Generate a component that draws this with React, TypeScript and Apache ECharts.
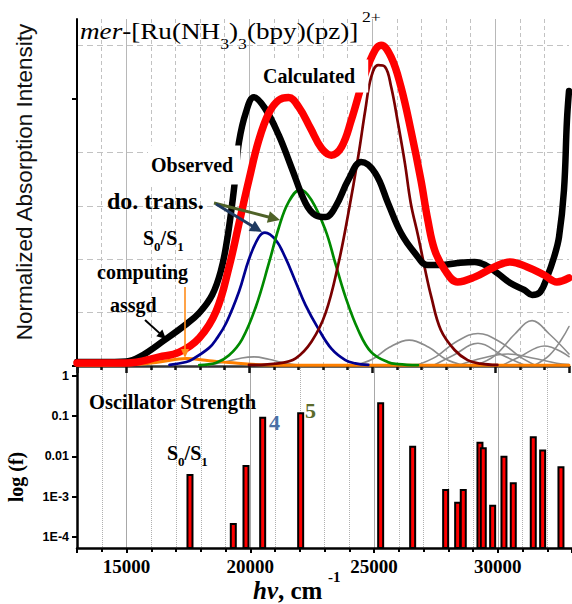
import React, { useEffect, useRef } from "react";
import * as echarts from "echarts";

const SERIF = "'Liberation Serif', 'Times New Roman', serif";
const SANS = "'Liberation Sans', Arial, sans-serif";

// x range (cm^-1)
const X_MIN = 13000;
const X_MAX = 33000;
const X_LABELS = [15000, 20000, 25000, 30000];
// top panel y range
const Y_TOP_MAX = 1.3;
// bottom panel log range
const F_MIN = 5.25e-5;
const F_MAX = 1.58;
const F_TICKS = [1e-4, 1e-3, 1e-2, 1e-1, 1];

// Observed spectrum (black)
const OBSERVED: number[][] = [
  [13000, 0.015], [13930, 0.015], [15010, 0.017], [15545, 0.034], [16555, 0.097],
  [17404, 0.154], [17969, 0.199], [18494, 0.266], [18858, 0.36], [19100, 0.472],
  [19302, 0.603], [19424, 0.697], [19585, 0.839], [19868, 0.951], [20191, 1.007],
  [20636, 0.966], [21201, 0.865], [21726, 0.742], [22292, 0.61], [22696, 0.565],
  [23100, 0.558], [23504, 0.596], [24029, 0.697], [24554, 0.764], [25120, 0.723],
  [25645, 0.61], [26170, 0.498], [26736, 0.423], [27261, 0.378], [27786, 0.378],
  [28473, 0.386], [29160, 0.39], [29604, 0.378], [30089, 0.348], [30614, 0.311],
  [31180, 0.285], [31503, 0.266], [31826, 0.277], [32109, 0.333], [32392, 0.408],
  [32594, 0.483], [32796, 0.659], [32917, 0.921], [33000, 1.03],
];
// Calculated spectrum (red)
const CALCULATED: number[][] = [
  [13000, 0.011], [15000, 0.011], [16350, 0.034], [17160, 0.052], [17970, 0.105],
  [18660, 0.206], [19180, 0.371], [19590, 0.536], [19990, 0.697], [20390, 0.846],
  [20800, 0.948], [21200, 0.996], [21600, 1.006], [22010, 0.971], [22490, 0.891],
  [22940, 0.816], [23340, 0.79], [23750, 0.82], [24150, 0.921], [24720, 1.097],
  [25120, 1.184], [25360, 1.202], [25770, 1.157], [26170, 1.045], [26570, 0.884],
  [26980, 0.697], [27260, 0.547], [27540, 0.434], [27950, 0.36], [28470, 0.315],
  [29160, 0.333], [29970, 0.371], [30610, 0.39], [31300, 0.371], [31990, 0.341],
  [32510, 0.315], [33000, 0.33],
];
// Band components
const BAND_MAROON: number[][] = [
  [19990, 0.004], [21200, 0.01], [21890, 0.029], [22530, 0.091], [23100, 0.197],
  [23630, 0.385], [24030, 0.572], [24430, 0.784], [24720, 0.959], [24960, 1.083],
  [25240, 1.127], [25520, 1.121], [25770, 1.046], [26050, 0.909], [26330, 0.759],
  [26570, 0.609], [26860, 0.49], [27130, 0.37], [27400, 0.26], [27790, 0.135],
  [28350, 0.06], [28880, 0.022], [29400, 0.009], [30090, 0.004],
];
const BAND_GREEN: number[][] = [
  [17970, 0.003], [18660, 0.012], [19180, 0.04], [19710, 0.1], [20270, 0.222],
  [20800, 0.385], [21200, 0.517], [21600, 0.614], [22080, 0.661], [22530, 0.622],
  [23100, 0.509], [23500, 0.385], [23910, 0.26], [24430, 0.135], [24960, 0.052],
  [25650, 0.014], [26050, 0.007], [26860, 0.003],
];
const BAND_BLUE: number[][] = [
  [16760, 0.004], [17440, 0.015], [17690, 0.025], [18370, 0.068], [18660, 0.1],
  [19060, 0.16], [19590, 0.28], [19990, 0.4], [20390, 0.483], [20640, 0.5],
  [21080, 0.472], [21480, 0.404], [21890, 0.315], [22290, 0.228], [22820, 0.138],
  [23340, 0.065], [23910, 0.022], [24310, 0.01], [24840, 0.004],
];
const BAND_ORANGE: number[][] = [
  [13000, 0.003], [15140, 0.005], [16350, 0.015], [17440, 0.028], [18370, 0.02],
  [19180, 0.013], [20390, 0.005], [22010, 0.003], [33000, 0.003],
];
const GRAY_BANDS: number[][][] = [
  [[18300, 0.002], [19000, 0.015], [19700, 0.03], [20200, 0.034], [20800, 0.025], [21500, 0.01], [22200, 0.002]],
  [[24300, 0.003], [25000, 0.025], [25700, 0.07], [26500, 0.097], [27300, 0.07], [28000, 0.025], [28700, 0.003]],
  [[26800, 0.003], [27600, 0.035], [28400, 0.09], [29300, 0.122], [30200, 0.09], [31000, 0.035], [31600, 0.004]],
  [[27500, 0.003], [28300, 0.04], [29300, 0.085], [30300, 0.04], [31200, 0.003]],
  [[29200, 0.003], [30000, 0.04], [30800, 0.12], [31500, 0.17], [32200, 0.12], [33000, 0.045]],
  [[30300, 0.003], [31000, 0.035], [32000, 0.075], [33000, 0.035]],
  [[31600, 0.003], [32200, 0.04], [32700, 0.1], [33000, 0.148]],
  [[28500, 0.003], [29500, 0.03], [30500, 0.045], [31500, 0.03], [32500, 0.01], [33000, 0.005]],
];
// Oscillator strengths
const BAR_X = [17565, 19315, 19828, 20502, 22037, 25269, 26562, 27895, 28380, 28607, 29281, 29415, 29794, 30251, 30627, 31435, 31814, 32554];
const BAR_F = [3.44e-3, 2.08e-4, 5.77e-3, 0.092, 0.118, 0.209, 0.0174, 1.46e-3, 7.05e-4, 1.46e-3, 0.0219, 0.0159, 5.94e-4, 9.84e-3, 2.14e-3, 0.0299, 0.0139, 5.36e-3];

function arrow(x1: number, y1: number, x2: number, y2: number, color: string, w: number, L: number, hw: number) {
  const dx = x2 - x1, dy = y2 - y1;
  const len = Math.hypot(dx, dy);
  const ux = dx / len, uy = dy / len;
  const bx = x2 - L * ux, by = y2 - L * uy;
  return [
    { type: "line", z: 100, shape: { x1, y1, x2: bx + ux, y2: by + uy }, style: { stroke: color, lineWidth: w } },
    {
      type: "polygon", z: 100,
      shape: { points: [[x2, y2], [bx - hw * uy, by + hw * ux], [bx + hw * uy, by - hw * ux]] },
      style: { fill: color },
    },
  ];
}

function logLabel(v: number) {
  const e = Math.round(Math.log10(v));
  if (e === 0) return "1";
  if (e === -1) return "0.1";
  if (e === -2) return "0.01";
  return "1E" + e;
}

export default function App() {
  const ref = useRef<HTMLDivElement>(null);
  useEffect(() => {
    if (!ref.current) return;
    const chart = echarts.init(ref.current, undefined, { renderer: "svg" });

    const lineSeries = (data: number[][], color: string, width: number, z = 2) => ({
      type: "line",
      xAxisIndex: 0,
      yAxisIndex: 0,
      data,
      showSymbol: false,
      symbol: "none",
      smooth: 0.4,
      z,
      lineStyle: { color, width, cap: "round", join: "round" },
      silent: true,
    });

    const richS = (size: number, sub: number) => ({
      n: { fontFamily: SERIF, fontWeight: "bold", fontSize: size, lineHeight: 30, fill: "#000" },
      s: { fontFamily: SERIF, fontWeight: "bold", fontSize: sub, lineHeight: sub, verticalAlign: "bottom", fill: "#000" },
    });

    const boldText = (text: string, x: number, y: number, size: number, extra: any = {}) => ({
      type: "text",
      x,
      y,
      z: 100,
      style: {
        text,
        fill: "#000",
        fontFamily: SERIF,
        fontWeight: "bold",
        fontSize: size,
        align: "left",
        verticalAlign: "middle",
        ...extra,
      },
    });

    const option: any = {
      animation: false,
      grid: [
        { left: 77, right: 0, top: 19, height: 347 },
        { left: 77, right: 0, top: 368, height: 180 },
      ],
      xAxis: [
        {
          type: "value", gridIndex: 0, min: X_MIN, max: X_MAX, splitNumber: 4,
          axisLabel: { show: true, formatter: () => "", fontSize: 1 },
          axisLine: { show: true, lineStyle: { color: "#333", width: 2.5 } },
          axisTick: { show: true, length: 7, lineStyle: { color: "#111", width: 2.5 } },
          minorTick: { show: true, splitNumber: 5, length: 4, lineStyle: { color: "#111", width: 2.5 } },
          splitLine: { show: true, showMinLine: false, showMaxLine: false, lineStyle: { color: "#b8b8b8", width: 1 } },
          minorSplitLine: { show: true, lineStyle: { color: "#c2c2c2", width: 1, type: [4, 3] } },
        },
        {
          type: "value", gridIndex: 1, min: X_MIN, max: X_MAX, splitNumber: 4,
          axisLabel: {
            customValues: X_LABELS,
            formatter: (v: number) => String(v),
            fontFamily: SERIF, fontWeight: "bold", fontSize: 19, color: "#000", margin: 9,
          },
          axisLine: { show: true, lineStyle: { color: "#000", width: 2.5 } },
          axisTick: { show: true, length: 5, lineStyle: { color: "#000", width: 2 } },
          minorTick: { show: true, splitNumber: 5, length: 4, lineStyle: { color: "#000", width: 2 } },
          splitLine: { show: true, showMinLine: false, showMaxLine: false, lineStyle: { color: "#a8a8a8", width: 1 } },
          minorSplitLine: { show: true, lineStyle: { color: "#b0b0b0", width: 1, type: "dotted" } },
        },
      ],
      yAxis: [
        {
          type: "value", gridIndex: 0, min: 0, max: Y_TOP_MAX, interval: 1,
          axisLabel: { show: false },
          axisLine: { show: true, lineStyle: { color: "#000", width: 2 } },
          axisTick: { show: true, length: 5, customValues: [0, 1], lineStyle: { color: "#000", width: 2 } },
          minorTick: { show: false, splitNumber: 5 },
          splitLine: { show: true, showMinLine: false, showMaxLine: false, lineStyle: { color: "#b8b8b8", width: 1 } },
          minorSplitLine: { show: true, lineStyle: { color: "#c2c2c2", width: 1, type: [6, 4] } },
        },
        {
          type: "log", logBase: 10, gridIndex: 1, min: F_MIN, max: F_MAX,
          axisLabel: {
            customValues: F_TICKS,
            formatter: logLabel,
            fontFamily: SANS, fontWeight: "bold", fontSize: 12.5, color: "#000", margin: 8,
          },
          axisLine: { show: true, lineStyle: { color: "#000", width: 2.5 } },
          axisTick: { show: true, length: 5, customValues: F_TICKS, lineStyle: { color: "#000", width: 2 } },
          splitLine: { show: false },
        },
      ],
      series: [
        ...GRAY_BANDS.map((g) => lineSeries(g, "#8c8c8c", 1.6)),
        lineSeries(BAND_ORANGE, "#ff8000", 3),
        lineSeries(BAND_BLUE, "#000090", 2.7),
        lineSeries(BAND_GREEN, "#008a00", 2.7),
        lineSeries(BAND_MAROON, "#7a0000", 2.7),
        lineSeries(OBSERVED, "#000000", 6.5, 3),
        lineSeries(CALCULATED, "#ff0000", 7.5, 4),
        {
          type: "custom",
          xAxisIndex: 1,
          yAxisIndex: 1,
          data: BAR_X.map((x, i) => [x, BAR_F[i]]),
          encode: { x: 0, y: 1 },
          z: 5,
          renderItem: (params: any, api: any) => {
            const x = api.value(0);
            const f = api.value(1);
            const top = api.coord([x, f]);
            const bottom = api.coord([x, F_MIN]);
            return {
              type: "rect",
              shape: { x: top[0] - 2.5, y: top[1], width: 5, height: bottom[1] - top[1] },
              style: { fill: "#ff0000", stroke: "#000", lineWidth: 2 },
            };
          },
        },
      ],
      graphic: [
        // title
        {
          type: "text", x: 80, y: 31, scaleX: 1.18, z: 100,
          style: {
            text: "{i|mer}{n|-[Ru(NH}{s|3}{n|)}{s|3}{n|(bpy)(pz)]}",
            align: "left", verticalAlign: "middle",
            rich: {
              i: { fontFamily: SERIF, fontStyle: "italic", fontSize: 23, lineHeight: 40, fill: "#000" },
              n: { fontFamily: SERIF, fontSize: 23, lineHeight: 40, fill: "#000" },
              s: { fontFamily: SERIF, fontSize: 15, lineHeight: 15, verticalAlign: "bottom", fill: "#000" },
            },
          },
        },
        {
          type: "text", x: 362, y: 17, scaleX: 1.18, z: 100,
          style: { text: "2+", fontFamily: SERIF, fontSize: 15, fill: "#000", align: "left", verticalAlign: "middle" },
        },
        boldText("Calculated", 258, 76, 20, { backgroundColor: "#fff", padding: [7, 13, 6, 5] }),
        boldText("Observed", 148, 165, 20, { backgroundColor: "#fff", padding: [10, 7, 9, 3] }),
        boldText("do. trans.", 107, 201, 24),
        {
          type: "text", x: 143, y: 238, z: 100,
          style: { text: "{n|S}{s|0}{n|/S}{s|1}", align: "left", verticalAlign: "middle", rich: richS(20, 13) },
        },
        boldText("computing", 97, 272, 20),
        boldText("assgd", 110, 305, 20),
        ...arrow(214, 203, 280, 220, "#4f6228", 3, 12, 6),
        ...arrow(216, 204, 262, 232, "#1f3a60", 3, 12, 6),
        ...arrow(185, 287, 185, 358, "#ff8c1a", 1.6, 9, 4),
        ...arrow(145, 320, 166, 339, "#000000", 2, 9, 4.5),
        boldText("Oscillator Strength", 89, 402, 20.5),
        {
          type: "text", x: 167, y: 453, z: 100,
          style: { text: "{n|S}{s|0}{n|/S}{s|1}", align: "left", verticalAlign: "middle", rich: richS(20, 13) },
        },
        boldText("4", 269, 422, 22, { fill: "#4a6fa5" }),
        boldText("5", 305, 410, 22, { fill: "#5b6b2c" }),
        // axis names
        {
          type: "text", x: 24, y: 182, rotation: Math.PI / 2, z: 100,
          style: {
            text: "Normalized Absorption Intensity", fontFamily: SANS, fontSize: 22.5,
            fill: "#111", align: "center", verticalAlign: "middle",
          },
        },
        {
          type: "text", x: 16, y: 477, rotation: Math.PI / 2, z: 100,
          style: {
            text: "log (f)", fontFamily: SERIF, fontWeight: "bold", fontSize: 20,
            fill: "#000", align: "center", verticalAlign: "middle",
          },
        },
        {
          type: "text", x: 253, y: 590, z: 100,
          style: {
            text: "{a|hv}{b|, cm}", align: "left", verticalAlign: "middle",
            rich: {
              a: { fontFamily: SERIF, fontWeight: "bold", fontStyle: "italic", fontSize: 25, lineHeight: 26, fill: "#000" },
              b: { fontFamily: SERIF, fontWeight: "bold", fontSize: 25, lineHeight: 26, fill: "#000" },
            },
          },
        },
        {
          type: "text", x: 328, y: 577, z: 100,
          style: { text: "-1", fontFamily: SERIF, fontWeight: "bold", fontSize: 15, fill: "#000", align: "left", verticalAlign: "middle" },
        },
      ],
    };

    chart.setOption(option);
    return () => chart.dispose();
  }, []);

  return (
    <div
      ref={ref}
      style={{ position: "absolute", left: 0, top: 0, width: 572, height: 604, background: "#fff" }}
    />
  );
}
